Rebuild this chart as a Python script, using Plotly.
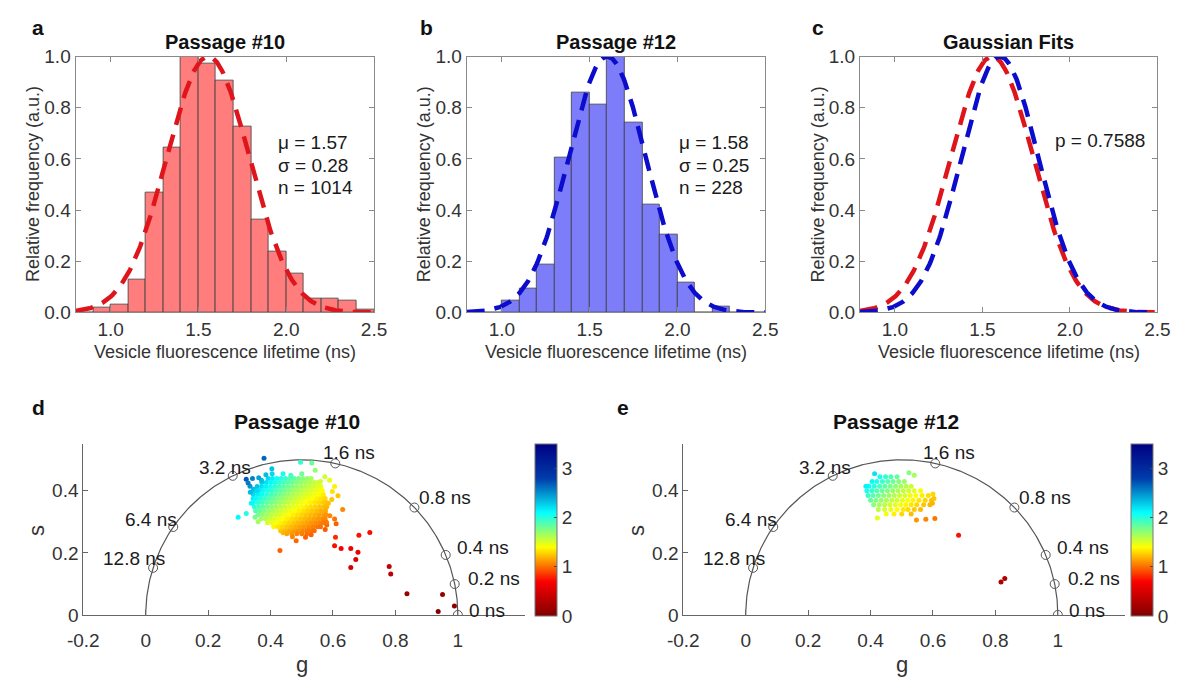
import numpy as np
import plotly.graph_objects as go

W, H = 1188, 686
FONT = "Liberation Sans, Arial, sans-serif"

# ---------------- Histogram data (bins of 0.1 ns from 0.8 to 2.5) ----------------
bin_left = [0.8, 0.9, 1.0, 1.1, 1.2, 1.3, 1.4, 1.5, 1.6, 1.7, 1.8, 1.9, 2.0, 2.1, 2.2, 2.3, 2.4]
freq_p10 = [0.0, 0.02, 0.03, 0.13, 0.468, 0.643, 1.0, 0.971, 0.908, 0.725, 0.363, 0.24, 0.152, 0.053, 0.053, 0.047, 0.013]
freq_p12 = [0.0, 0.0, 0.048, 0.095, 0.186, 0.605, 0.861, 0.813, 1.0, 0.744, 0.42, 0.304, 0.116, 0.0, 0.025, 0.0, 0.0]

# Gaussian fit parameters (as drawn)
fit_p10 = dict(mu=1.555, sigma=0.235)
fit_p12 = dict(mu=1.600, sigma=0.220)
stats_p10 = ["μ = 1.57", "σ = 0.28", "n = 1014"]
stats_p12 = ["μ = 1.58", "σ = 0.25", "n = 228"]
p_value_text = "p = 0.7588"

# ---------------- Phasor data ----------------
laser_freq_ghz = 0.08
ref_lifetimes = [0, 0.2, 0.4, 0.8, 1.6, 3.2, 6.4, 12.8]
ref_labels = ["0 ns", "0.2 ns", "0.4 ns", "0.8 ns", "1.6 ns", "3.2 ns", "6.4 ns", "12.8 ns"]

# Passage #10 dense cloud, rows of (s, [g ...])
p10_rows = [
    (0.440, [0.392, 0.406, 0.420, 0.434, 0.448, 0.462, 0.476, 0.490, 0.504, 0.518, 0.530]),
    (0.427, [0.372, 0.386, 0.400, 0.414, 0.428, 0.442, 0.456, 0.470, 0.484, 0.498, 0.512, 0.526, 0.540, 0.551]),
    (0.414, [0.357, 0.371, 0.385, 0.399, 0.413, 0.427, 0.441, 0.455, 0.469, 0.483, 0.497, 0.511, 0.525, 0.539, 0.553, 0.561]),
    (0.401, [0.349, 0.363, 0.377, 0.391, 0.405, 0.419, 0.433, 0.447, 0.461, 0.475, 0.489, 0.503, 0.517, 0.531, 0.545, 0.559, 0.566]),
    (0.388, [0.345, 0.359, 0.373, 0.387, 0.401, 0.415, 0.429, 0.443, 0.457, 0.471, 0.485, 0.499, 0.513, 0.527, 0.541, 0.555, 0.569]),
    (0.375, [0.344, 0.352, 0.366, 0.380, 0.394, 0.408, 0.422, 0.436, 0.450, 0.464, 0.478, 0.492, 0.506, 0.520, 0.534, 0.548, 0.562, 0.575]),
    (0.362, [0.345, 0.359, 0.373, 0.387, 0.401, 0.415, 0.429, 0.443, 0.457, 0.471, 0.485, 0.499, 0.513, 0.527, 0.541, 0.555, 0.569, 0.578]),
    (0.349, [0.348, 0.362, 0.376, 0.390, 0.404, 0.418, 0.432, 0.446, 0.460, 0.474, 0.488, 0.502, 0.516, 0.530, 0.544, 0.558, 0.572, 0.580]),
    (0.336, [0.352, 0.366, 0.380, 0.394, 0.408, 0.422, 0.436, 0.450, 0.464, 0.478, 0.492, 0.506, 0.520, 0.534, 0.548, 0.562, 0.576]),
    (0.323, [0.360, 0.374, 0.388, 0.402, 0.416, 0.430, 0.444, 0.458, 0.472, 0.486, 0.500, 0.514, 0.528, 0.542, 0.556, 0.570, 0.578]),
    (0.310, [0.370, 0.384, 0.398, 0.412, 0.426, 0.440, 0.454, 0.468, 0.482, 0.496, 0.510, 0.524, 0.538, 0.552, 0.566, 0.575]),
    (0.297, [0.390, 0.404, 0.418, 0.432, 0.446, 0.460, 0.474, 0.488, 0.502, 0.516, 0.530, 0.544, 0.558, 0.568]),
    (0.284, [0.410, 0.424, 0.438, 0.452, 0.466, 0.480, 0.494, 0.508, 0.522, 0.536, 0.550, 0.560]),
    (0.271, [0.432, 0.446, 0.460, 0.474, 0.488, 0.502, 0.516, 0.530, 0.540]),
    (0.262, [0.452, 0.468, 0.484, 0.500, 0.516]),
]
p10_sparse_g = [0.335, 0.338, 0.350, 0.360, 0.405, 0.440, 0.500, 0.560, 0.585, 0.590, 0.580, 0.575, 0.440, 0.530,
                0.379, 0.404, 0.322, 0.334, 0.345, 0.355, 0.371, 0.296, 0.322, 0.496, 0.532, 0.543, 0.465,
                0.574, 0.589, 0.605, 0.616, 0.631, 0.605, 0.610, 0.579, 0.430, 0.482, 0.608, 0.605, 0.626,
                0.657, 0.683, 0.718, 0.680, 0.673, 0.657, 0.780, 0.785, 0.837, 0.951, 0.989, 0.937,
                0.328, 0.342, 0.362, 0.385, 0.598, 0.596, 0.470, 0.512]
p10_sparse_s = [0.395, 0.360, 0.315, 0.300, 0.455, 0.455, 0.455, 0.430, 0.360, 0.320, 0.290, 0.275, 0.265, 0.258,
                0.505, 0.471, 0.437, 0.415, 0.405, 0.400, 0.434, 0.315, 0.327, 0.492, 0.490, 0.466, 0.450,
                0.445, 0.434, 0.414, 0.384, 0.340, 0.309, 0.294, 0.299, 0.208, 0.239, 0.250, 0.223, 0.214,
                0.214, 0.257, 0.266, 0.202, 0.179, 0.153, 0.156, 0.132, 0.068, 0.066, 0.029, 0.011,
                0.425, 0.440, 0.442, 0.452, 0.398, 0.372, 0.252, 0.250]

# Passage #12 cloud
p12_rows = [
    (0.445, [0.430, 0.448, 0.465, 0.485]),
    (0.430, [0.405, 0.420, 0.438, 0.455, 0.472, 0.490, 0.508]),
    (0.415, [0.395, 0.412, 0.429, 0.446, 0.463, 0.480, 0.497, 0.514, 0.530]),
    (0.400, [0.388, 0.404, 0.420, 0.437, 0.454, 0.471, 0.488, 0.505, 0.522, 0.540, 0.560]),
    (0.385, [0.392, 0.408, 0.425, 0.442, 0.459, 0.476, 0.493, 0.510, 0.527, 0.545, 0.565, 0.585]),
    (0.370, [0.400, 0.417, 0.434, 0.451, 0.468, 0.485, 0.502, 0.519, 0.536, 0.555, 0.575, 0.595]),
    (0.355, [0.410, 0.428, 0.445, 0.462, 0.479, 0.496, 0.513, 0.530, 0.548, 0.570, 0.590]),
    (0.340, [0.425, 0.445, 0.465, 0.485, 0.505, 0.520, 0.540, 0.560]),
    (0.325, [0.450, 0.475, 0.500, 0.530]),
]
p12_sparse_g = [0.413, 0.523, 0.422, 0.547, 0.577, 0.606, 0.682, 0.818, 0.830, 0.600, 0.603, 0.598, 0.385, 0.540]
p12_sparse_s = [0.455, 0.458, 0.3125, 0.306, 0.308, 0.311, 0.257, 0.106, 0.117, 0.390, 0.375, 0.360, 0.415, 0.450]

cbar_ticks = [0, 1, 2, 3]
cbar_range = [0, 3.5]

# ---------------- helpers ----------------
def px_x(p):
    return p / W

def px_y(p):
    return 1 - p / H

def gauss(x, mu, sigma):
    return np.exp(-(x - mu) ** 2 / (2 * sigma ** 2))

omega = 2 * np.pi * laser_freq_ghz  # rad/ns

def flatten(rows, extra_g, extra_s):
    g, s = [], []
    for sv, gl in rows:
        g.extend(gl)
        s.extend([sv] * len(gl))
    g.extend(extra_g)
    s.extend(extra_s)
    g = np.array(g)
    s = np.array(s)
    tau = s / (omega * g)  # phase lifetime used for colour
    return g, s, tau

RED = "rgb(222,22,28)"
BLUE = "rgb(12,12,205)"
TICKC = "#333333"
LINEC = "#8a8a8a"

fig = go.Figure()

xfit = np.linspace(0.8, 2.5, 300)
bin_centers = [b + 0.05 for b in bin_left]

# panel a
fig.add_trace(go.Bar(x=bin_centers, y=freq_p10, width=0.1, marker=dict(color="rgb(255,125,125)", line=dict(color="#3c3c3c", width=0.8)), xaxis="x", yaxis="y"))
fig.add_trace(go.Scatter(x=xfit, y=gauss(xfit, **fit_p10), mode="lines", line=dict(color=RED, width=4.5, dash="18px,10px"), xaxis="x", yaxis="y"))
# panel b
fig.add_trace(go.Bar(x=bin_centers, y=freq_p12, width=0.1, marker=dict(color="rgb(125,125,250)", line=dict(color="#3c3c3c", width=0.8)), xaxis="x2", yaxis="y2"))
fig.add_trace(go.Scatter(x=xfit, y=gauss(xfit, **fit_p12), mode="lines", line=dict(color=BLUE, width=4.5, dash="18px,10px"), xaxis="x2", yaxis="y2"))
# panel c
fig.add_trace(go.Scatter(x=xfit, y=gauss(xfit, **fit_p10), mode="lines", line=dict(color=RED, width=4.5, dash="18px,10px"), xaxis="x3", yaxis="y3"))
fig.add_trace(go.Scatter(x=xfit, y=gauss(xfit, **fit_p12), mode="lines", line=dict(color=BLUE, width=4.5, dash="18px,10px"), xaxis="x3", yaxis="y3"))

# phasor panels
theta = np.linspace(0, np.pi, 300)
circ_g = 0.5 + 0.5 * np.cos(theta)
circ_s = 0.5 * np.sin(theta)
ref_tau = np.array(ref_lifetimes)
ref_g = 1 / (1 + (omega * ref_tau) ** 2)
ref_s = omega * ref_tau / (1 + (omega * ref_tau) ** 2)

label_pos = {  # xanchor, xshift, yshift
    "0 ns": ("left", 9, 4), "0.2 ns": ("left", 11, 6), "0.4 ns": ("left", 9, 7),
    "0.8 ns": ("left", 3, 10), "1.6 ns": ("left", -14, 11), "3.2 ns": ("right", 20, 8),
    "6.4 ns": ("right", 6, 7), "12.8 ns": ("right", 14, 9),
}

annotations = []
cb_x = {"4": 532, "5": 1143}
for idx, (rows, eg, es) in zip(["4", "5"], [(p10_rows, p10_sparse_g, p10_sparse_s), (p12_rows, p12_sparse_g, p12_sparse_s)]):
    xa, ya = "x" + idx, "y" + idx
    fig.add_trace(go.Scatter(x=circ_g, y=circ_s, mode="lines", line=dict(color="#555555", width=1.2), xaxis=xa, yaxis=ya, hoverinfo="skip"))
    g, s, tau = flatten(rows, eg, es)
    fig.add_trace(go.Scatter(
        x=g, y=s, mode="markers", xaxis=xa, yaxis=ya,
        marker=dict(size=5, color=tau, colorscale="Jet_r", cmin=cbar_range[0], cmax=cbar_range[1], line=dict(width=0),
                    showscale=True,
                    colorbar=dict(x=px_x(cb_x[idx]), xanchor="left", y=px_y(625), yanchor="bottom",
                                  len=(625 - 448) / H, lenmode="fraction", thickness=22, thicknessmode="pixels",
                                  xpad=0, ypad=0, outlinecolor="#777777", outlinewidth=1,
                                  tickvals=cbar_ticks, ticks="inside", ticklen=3, tickcolor="#444444",
                                  tickfont=dict(size=19, color=TICKC, family=FONT)))))
    fig.add_trace(go.Scatter(x=ref_g, y=ref_s, mode="markers", xaxis=xa, yaxis=ya,
                             marker=dict(symbol="circle-open", size=9, color="#555555", line=dict(width=1))))
    for lg, ls, lab in zip(ref_g, ref_s, ref_labels):
        anc, xs, ys = label_pos[lab]
        annotations.append(dict(x=lg, y=ls, xref=xa, yref=ya, text=lab, showarrow=False, xanchor=anc,
                                yanchor="middle", xshift=xs, yshift=ys,
                                font=dict(size=19, color="#1a1a1a", family=FONT)))

# ---------------- axes ----------------
top_dom_y = [px_y(312), px_y(48)]
top_x_dom = {"": (61, 367), "2": (462, 768), "3": (865, 1170)}
layout = {}
for k, (a, b) in top_x_dom.items():
    layout["xaxis" + k] = dict(domain=[px_x(a), px_x(b)], range=[0.8, 2.5], tickvals=[1.0, 1.5, 2.0, 2.5],
                               ticktext=["1.0", "1.5", "2.0", "2.5"], ticks="inside", ticklen=5, tickcolor=LINEC,
                               showline=True, linecolor=LINEC, linewidth=1, mirror="ticks", showgrid=False,
                               zeroline=False, anchor="y" + k, tickfont=dict(size=19, color=TICKC, family=FONT))
    layout["yaxis" + k] = dict(domain=top_dom_y, range=[0, 1], tickvals=[0, 0.2, 0.4, 0.6, 0.8, 1.0],
                               ticktext=["0.0", "0.2", "0.4", "0.6", "0.8", "1.0"], ticks="inside", ticklen=5,
                               tickcolor=LINEC, showline=True, linecolor=LINEC, linewidth=1, mirror="ticks",
                               showgrid=False, zeroline=False, anchor="x" + k,
                               tickfont=dict(size=19, color=TICKC, family=FONT))

bot_x_dom = {"4": (69, 522), "5": (684, 1137)}
for k, (a, b) in bot_x_dom.items():
    layout["xaxis" + k] = dict(domain=[px_x(a), px_x(b)], range=[-0.2, 1.216],
                               tickvals=[-0.2, 0, 0.2, 0.4, 0.6, 0.8, 1.0],
                               ticktext=["-0.2", "0", "0.2", "0.4", "0.6", "0.8", "1"],
                               ticks="inside", ticklen=5, tickcolor="#666666", showline=True, linecolor="#666666",
                               linewidth=1, showgrid=False, zeroline=False, anchor="y" + k, ticklabelstandoff=8,
                               tickfont=dict(size=19, color=TICKC, family=FONT))
    layout["yaxis" + k] = dict(domain=[px_y(624), px_y(448)], range=[0, 0.55], tickvals=[0, 0.2, 0.4],
                               ticktext=["0", "0.2", "0.4"], ticks="inside", ticklen=5, tickcolor="#666666",
                               showline=True, linecolor="#666666", linewidth=1, showgrid=False, zeroline=False,
                               anchor="x" + k, tickfont=dict(size=19, color=TICKC, family=FONT))

# ---------------- text annotations ----------------
def pann(text, x, y, size, bold=False, color="#111111", angle=0, xanchor="center"):
    annotations.append(dict(text=("<b>%s</b>" % text) if bold else text, x=px_x(x), y=px_y(y), xref="paper",
                            yref="paper", showarrow=False, xanchor=xanchor, yanchor="middle", textangle=angle,
                            font=dict(size=size, color=color, family=FONT)))

panel_titles = ["Passage #10", "Passage #12", "Gaussian Fits"]
for lab, lx, (a, b), t in zip(["a", "b", "c"], [14, 412, 814], top_x_dom.values(), panel_titles):
    pann(lab, lx, 18, 21, bold=True, xanchor="left")
    pann(t, (a + b) / 2, 33, 20, bold=True)
    pann("Vesicle fluorescence lifetime (ns)", (a + b) / 2, 353, 18, color="#333333")
for yx in [18, 419, 823]:
    pann("Relative frequency (a.u.)", yx, 180, 18, color="#333333", angle=-90)

for i, line in enumerate(stats_p10):
    pann(line, 267, 137 + 23 * i, 19, xanchor="left", color="#1a1a1a")
for i, line in enumerate(stats_p12):
    pann(line, 678, 137 + 23 * i, 19, xanchor="left", color="#1a1a1a")
pann(p_value_text, 1063, 135, 19, xanchor="left", color="#1a1a1a")

pann("d", 14, 410, 21, bold=True, xanchor="left")
pann("e", 614, 410, 21, bold=True, xanchor="left")
pann("Passage #10", 288, 425, 21, bold=True)
pann("Passage #12", 902, 425, 21, bold=True)
pann("g", 293, 675, 22, color="#333333")
pann("g", 908, 675, 22, color="#333333")
pann("s", 21, 537, 22, color="#333333", angle=-90)
pann("s", 636, 537, 22, color="#333333", angle=-90)

fig.update_layout(width=W, height=H, margin=dict(l=0, r=0, t=0, b=0), paper_bgcolor="white",
                  plot_bgcolor="white", showlegend=False, bargap=0, annotations=annotations,
                  font=dict(family=FONT), **layout)

fig.write_html("out.html")
